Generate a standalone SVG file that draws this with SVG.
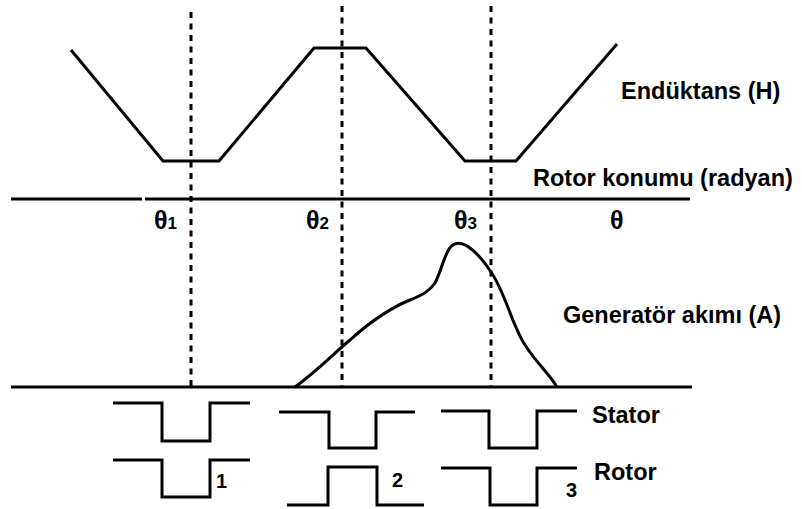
<svg xmlns="http://www.w3.org/2000/svg" width="802" height="509" viewBox="0 0 802 509">
<style>
.ln{fill:none;stroke:#000;stroke-width:3;stroke-linejoin:miter}
.dot{fill:none;stroke:#000;stroke-width:3;stroke-dasharray:6 5.5}
.lbl{font-family:"Liberation Sans",Arial,sans-serif;font-weight:bold;font-size:23.5px;fill:#000}
.th{font-family:"Liberation Sans",Arial,sans-serif;font-weight:bold;font-size:25px;fill:#000}
.sub{font-family:"Liberation Sans",Arial,sans-serif;font-weight:bold;font-size:17px;fill:#000}
.num{font-family:"Liberation Sans",Arial,sans-serif;font-weight:bold;font-size:20px;fill:#000}
</style>
<rect width="802" height="509" fill="#fff"/>
<g id="axes">
<line class="ln" x1="11" y1="199" x2="142" y2="199"/>
<line class="ln" x1="145" y1="199" x2="690" y2="199"/>
<line class="ln" x1="11" y1="387" x2="692" y2="387"/>
</g>
<g id="inductance">
<polyline class="ln" points="71,50 163,161 219,161 314,48 366,48 465,161 516,161 617,44"/>
<text class="lbl" x="621" y="99">Endüktans (H)</text>
</g>
<g id="current">
<path class="ln" d="M295,387 C318,370 332,355 350,340 C370,322 390,308 410,300 C425,294 430,290 435,283 C442,270 446,246 455,244 C465,240 480,255 491,272 C505,292 512,325 525,345 C538,365 548,372 557,387"/>
<text class="lbl" x="563" y="323">Generatör akımı (A)</text>
</g>
<g id="connectors">
<line class="dot" x1="191" y1="12" x2="191" y2="388"/>
<line class="dot" x1="342" y1="6" x2="342" y2="388"/>
<line class="dot" x1="491" y1="6" x2="491" y2="388"/>
</g>
<g id="position-labels">
<text class="lbl" x="533" y="186">Rotor konumu (radyan)</text>
<text class="th" x="154" y="229">θ<tspan class="sub">1</tspan></text>
<text class="th" x="306" y="229">θ<tspan class="sub">2</tspan></text>
<text class="th" x="454" y="229">θ<tspan class="sub">3</tspan></text>
<text class="th" x="610" y="229">θ</text>
</g>
<g id="stator">
<polyline class="ln" points="113,403 162,403 162,441 210,441 210,403 250,403"/>
<polyline class="ln" points="279,412 329,412 329,448 376,448 376,412 415,412"/>
<polyline class="ln" points="441,411 489,411 489,448 537,448 537,411 577,411"/>
<text class="lbl" x="592" y="423">Stator</text>
</g>
<g id="rotor">
<polyline class="ln" points="113,460 162,460 162,497 210,497 210,460 250,460"/>
<polyline class="ln" points="287,505 328,505 328,467 377,467 377,505 424,505"/>
<polyline class="ln" points="441,468 490,468 490,505 537,505 537,468 577,468"/>
<text class="num" x="216" y="488">1</text>
<text class="num" x="392" y="487">2</text>
<text class="num" x="566" y="497">3</text>
<text class="lbl" x="594" y="480">Rotor</text>
</g>
</svg>
